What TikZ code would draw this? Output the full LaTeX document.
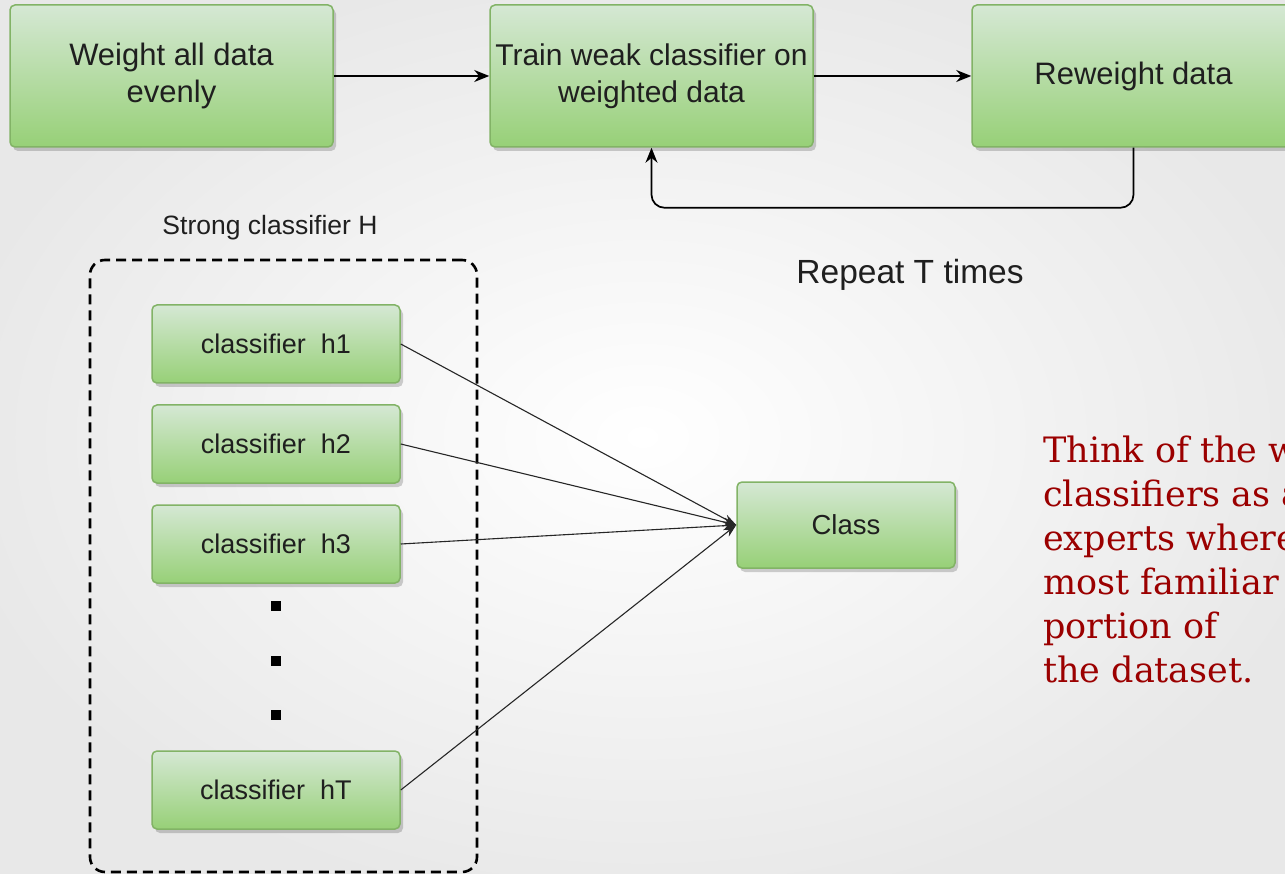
\documentclass[tikz,border=0pt]{standalone}
\usepackage{fontspec}
\setmainfont{Liberation Sans}
\newfontfamily\redserif{DejaVu Serif}
\usetikzlibrary{arrows.meta,shadows}
\definecolor{gtop}{HTML}{D5E8D4}
\definecolor{gbot}{HTML}{97D077}
\definecolor{gborder}{HTML}{82B366}
\definecolor{darkred}{RGB}{155,0,0}
\begin{document}
\begin{tikzpicture}[x=1pt,y=-1pt,
  box/.style={draw=gborder, line width=1.5pt, rounded corners=5pt,
    top color=gtop, bottom color=gbot,
    drop shadow={shadow xshift=3pt,shadow yshift=-4pt,opacity=0.18,fill=black},
    inner sep=0pt, align=center, text=black!88},
  bigbox/.style={box, minimum width=323pt, minimum height=142pt, font=\fontsize{31}{37}\selectfont},
  smallbox/.style={box, minimum width=248pt, minimum height=78pt, font=\fontsize{27}{30}\selectfont},
  container/.style={draw=black, line width=2.6pt, dash pattern=on 10pt off 6pt, rounded corners=15pt, inner sep=0pt},
  arr/.style={draw=black, line width=1.7pt, -{Stealth[length=15pt,width=12pt]}},
  conn/.style={draw=black!85, line width=1.1pt, -{Stealth[length=13pt,width=9pt]}},
  dot/.style={fill=black, minimum size=10pt, inner sep=0pt},
  lbl/.style={inner sep=0pt, text=black!88}
]
\useasboundingbox (0,0) rectangle (1285,874);
\clip (0,0) rectangle (1285,874);
\shade[inner color=white, outer color=black!9] (-60,-40) rectangle (1345,914);

% top row
\node[bigbox] (w)  at (171.5,76) {Weight all data\\evenly};
\node[bigbox, font=\fontsize{30}{37}\selectfont] (tr) at (651.5,76) {Train weak classifier on\\weighted data};
\node[bigbox] (rw) at (1133.5,76) {Reweight data};

\draw[arr] (w) -- (tr);
\draw[arr] (tr) -- (rw);
\draw[arr, rounded corners=13pt] (rw.south) -- ++(0,60) -| (tr.south);

\node[lbl, font=\fontsize{33.5}{38}\selectfont] (rep) at (910,275) {Repeat T times};

% strong classifier group
\node[container, minimum width=387pt, minimum height=612pt] (grp) at (283.5,566) {};
\node[lbl, font=\fontsize{26.5}{30}\selectfont] (sch) at (270,228) {Strong classifier H};

\node[smallbox] (h1) at (276,344) {classifier\ \ h1};
\node[smallbox] (h2) at (276,444) {classifier\ \ h2};
\node[smallbox] (h3) at (276,544) {classifier\ \ h3};
\node[smallbox] (hT) at (276,790) {classifier\ \ hT};

\node[dot] (d1) at (276,606) {};
\node[dot] (d2) at (276,661) {};
\node[dot] (d3) at (276,715) {};

\node[box, minimum width=218pt, minimum height=86pt, font=\fontsize{27.5}{30}\selectfont] (cls) at (846,525) {Class};

\draw[conn] (h1.east) -- (cls.west);
\draw[conn] (h2.east) -- (cls.west);
\draw[conn] (h3.east) -- (cls.west);
\draw[conn] (hT.east) -- (cls.west);

\node[inner sep=0pt, anchor=base west, align=left, text=darkred,
  font=\redserif\fontsize{35}{44}\selectfont] (note) at (1043,682)
  {Think of the w\\classifiers as a\\experts where\\most familiar\\portion of\\the dataset.};
\end{tikzpicture}
\end{document}
